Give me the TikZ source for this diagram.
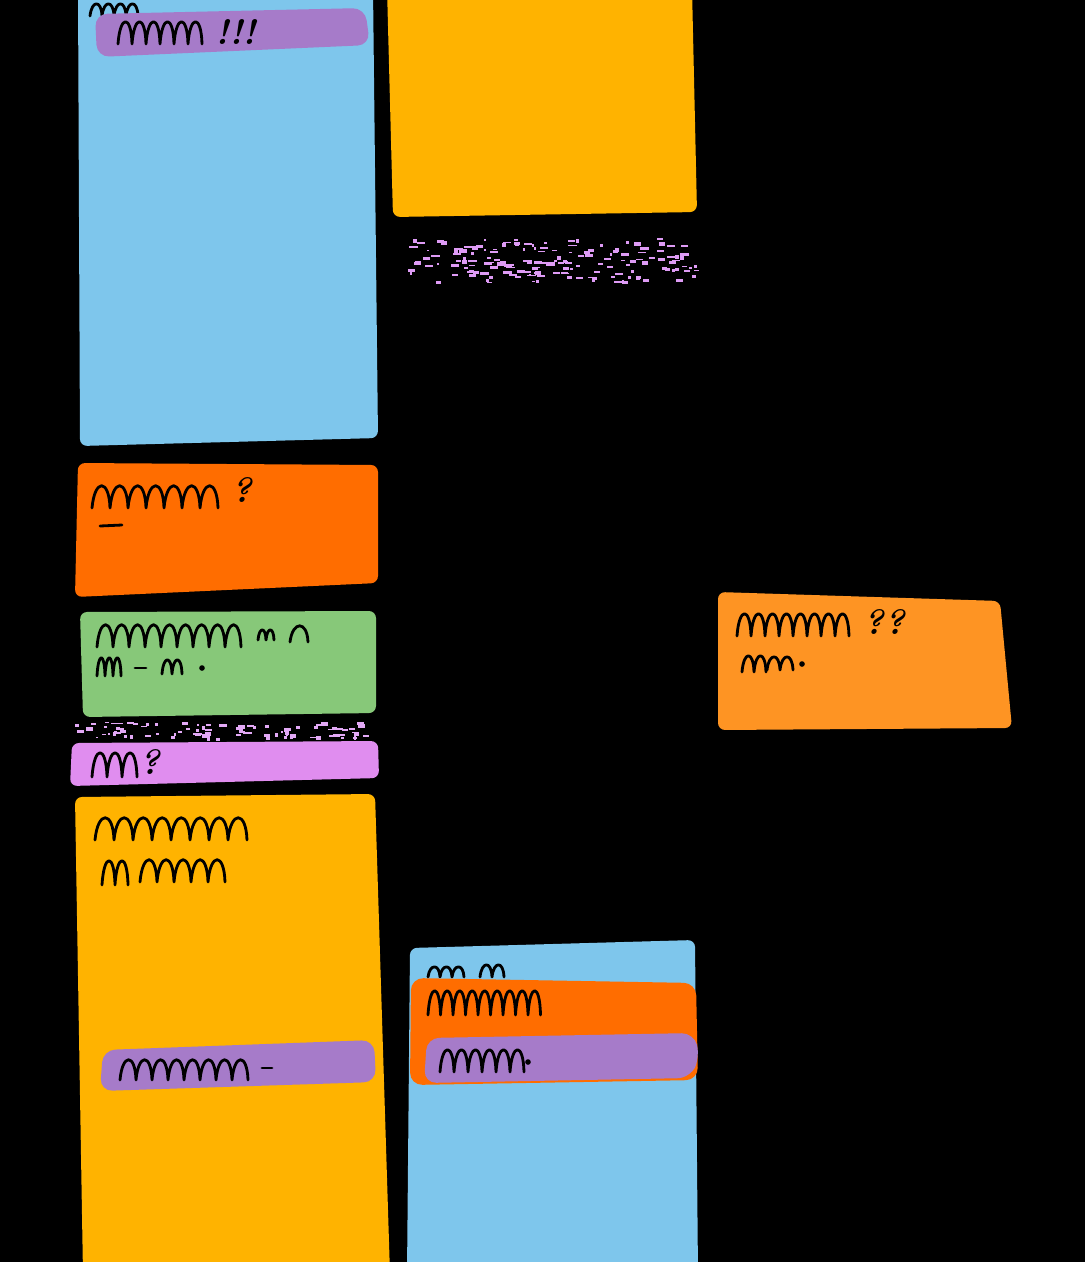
\documentclass[tikz,border=0pt]{standalone}
\usepackage{tikz}
\usetikzlibrary{positioning}

\definecolor{skyblue}{HTML}{7EC6EC}
\definecolor{lilac}{HTML}{A67BC9}
\definecolor{amber}{HTML}{FFB300}
\definecolor{tangerine}{HTML}{FF6D00}
\definecolor{leaf}{HTML}{87C879}
\definecolor{orchid}{HTML}{E08DEF}
\definecolor{apricot}{HTML}{FE9423}
\definecolor{specks}{HTML}{D070F0}

% row of handwriting humps: start, count, width, height
\newcommand{\scrib}[4]{%
  \draw[ink] (#1) \foreach \k in {1,...,#2}{ .. controls +(0.15*#3,{-1.35*#4}) and +(-0.05*#3,{-1.35*#4}) .. ++(#3,0) };}

\begin{document}
\begin{tikzpicture}[
  x=0.02cm, y=-0.02cm,
  note/.style={rounded corners=4pt},
  tag/.style={rounded corners=7pt},
  ink/.style={black, line width=1.6pt, line cap=round, line join=round},
  punct/.style={inner sep=0pt, font=\fontsize{20}{20}\selectfont\bfseries\itshape}
]
  \useasboundingbox (0,0) rectangle (1085,1262);
  \fill[black] (-10,-10) rectangle (1095,1272);

  % left column
  \fill[skyblue, note] (78,-12) -- (373,-12) -- (378,438) -- (80,446) -- cycle;
  \scrib{90,16}{4}{12}{12}
  \fill[lilac, tag] (95,14) -- (365,8) -- (370,45) -- (97,57) -- cycle;
  \scrib{118,44}{6}{14}{22}
  \node[punct] (bang) at (236,32) {!!!};

  \fill[tangerine, note] (78,463) -- (378,465) -- (378,583) -- (75,597) -- cycle;
  \scrib{92,508}{7}{18}{22}
  \node[punct] (askA) at (242,490) {?};
  \draw[ink] (100,526) -- (122,525);

  \fill[leaf, note] (80,612) -- (376,611) -- (376,713) -- (83,717) -- cycle;
  \scrib{97,647}{9}{16}{22}
  \scrib{258,640}{2}{8}{10}
  \scrib{290,642}{1}{18}{16}
  \scrib{97,676}{3}{8}{18}
  \draw[ink] (135,668) -- (146,668);
  \scrib{162,674}{2}{10}{14}
  \fill[black] (202,668) circle (1.6pt);

  \pgfmathsetseed{7}
  \foreach \i in {1,...,90}
    \fill[specks!60!white] ({75+290*rnd},{722+16*rnd}) rectangle +({2+6*rnd},{1+3*rnd});

  \fill[orchid, note] (72,743) -- (378,741) -- (379,778) -- (70,786) -- cycle;
  \scrib{92,777}{3}{15}{24}
  \node[punct] (askB) at (150,762) {?};

  \fill[amber, note] (75,797) -- (375,794) -- (390,1274) -- (83,1274) -- cycle;
  \scrib{95,840}{8}{19}{22}
  \scrib{102,885}{2}{13}{24}
  \scrib{140,882}{5}{17}{22}
  \fill[lilac, tag] (103,1050) -- (374,1040) -- (376,1082) -- (100,1091) -- cycle;
  \scrib{120,1080}{8}{16}{20}
  \draw[ink] (262,1068) -- (272,1068);

  % middle column
  \fill[amber, note] (387,-12) -- (692,-12) -- (697,212) -- (393,217) -- cycle;

  \pgfmathsetseed{3}
  \foreach \i in {1,...,170}
    \fill[specks!70!white] ({402+292*rnd},{238+44*rnd}) rectangle +({2+7*rnd},{1+3*rnd});

  \fill[skyblue, note] (410,948) -- (695,940) -- (698,1274) -- (407,1274) -- cycle;
  \scrib{428,977}{3}{12}{10}
  \scrib{480,977}{2}{12}{12}
  \fill[tangerine, tag] (411,978) -- (696,983) -- (698,1080) -- (410,1085) -- cycle;
  \scrib{428,1015}{9}{12.5}{24}
  \fill[lilac, tag] (427,1038) -- (694,1033) -- (700,1057) -- (690,1078) -- (424,1083) -- cycle;
  \scrib{440,1072}{6}{14}{22}
  \fill[black] (528,1062) circle (1.6pt);

  % right column
  \fill[apricot, note] (718,592) -- (1000,601) -- (1012,728) -- (718,730) -- cycle;
  \scrib{737,636}{8}{14}{22}
  \node[punct] (askC) at (884,622) {??};
  \scrib{742,672}{2}{12}{16}
  \scrib{767,670}{2}{13}{13}
  \fill[black] (802,664) circle (1.6pt);
\end{tikzpicture}
\end{document}
